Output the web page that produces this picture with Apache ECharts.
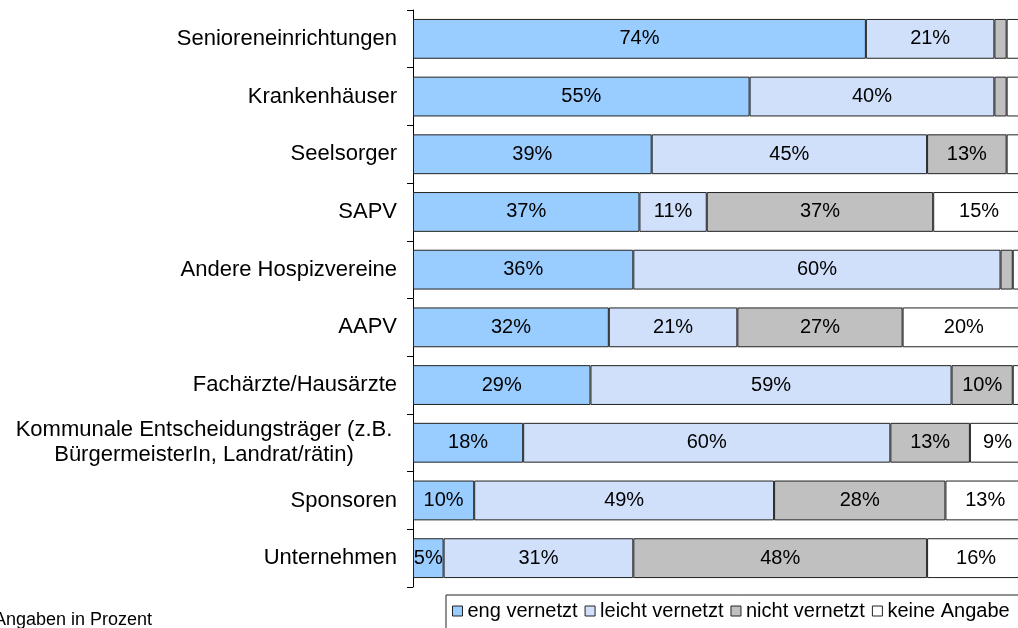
<!DOCTYPE html>
<html lang="de">
<head>
    <meta charset="utf-8">
    <script type="text/javascript" src="https://cdn.jsdelivr.net/npm/echarts@6/dist/echarts.min.js"></script>
</head>
<body style="margin: 0; background: #fff; overflow: hidden">
<!-- etwas breiter als das Fenster: die 100%-Marke liegt knapp hinter dem rechten Rand -->
<div id="container" style="width:1040px;height:628px"></div>

<script type="text/javascript">
    // Kategorien (von oben nach unten)
    var categories = [
        'Senioreneinrichtungen',
        'Krankenhäuser',
        'Seelsorger',
        'SAPV',
        'Andere Hospizvereine',
        'AAPV',
        'Fachärzte/Hausärzte',
        'Kommunale Entscheidungsträger (z.B.\nBürgermeisterIn, Landrat/rätin)',
        'Sponsoren',
        'Unternehmen'
    ];
    var seriesNames = ['eng vernetzt', 'leicht vernetzt', 'nicht vernetzt', 'keine Angabe'];
    var engVernetzt    = [74, 55, 39, 37, 36, 32, 29, 18, 10, 5];
    var leichtVernetzt = [21, 40, 45, 11, 60, 21, 59, 60, 49, 31];
    var nichtVernetzt  = [2, 2, 13, 37, 2, 27, 10, 13, 28, 48];
    var keineAngabe    = [3, 3, 3, 15, 2, 20, 2, 9, 13, 16];
    var colors = ['#99ccff', '#d0e0fa', '#c0c0c0', '#ffffff'];

    var dom = document.getElementById("container");
    var myChart = echarts.init(dom);
    var font = 'Liberation Sans, Arial, sans-serif';

    var allData = [engVernetzt, leichtVernetzt, nichtVernetzt, keineAngabe];
    var series = allData.map(function (d, i) {
        return {
            name: seriesNames[i],
            type: 'bar',
            stack: 'total',
            barWidth: '69%',
            data: d,
            itemStyle: {color: colors[i], borderColor: '#222', borderWidth: 1},
            label: {
                show: true,
                position: 'inside',
                color: '#000',
                fontFamily: font,
                fontSize: 20,
                formatter: function (p) {
                    return p.value >= 5 ? p.value + '%' : '';
                }
            }
        };
    });

    var option = {
        backgroundColor: '#fff',
        animation: false,
        grid: {left: 413, top: 10, bottom: 41, width: 612},
        xAxis: {type: 'value', min: 0, max: 100, show: false},
        yAxis: {
            type: 'category',
            inverse: true,
            data: categories,
            axisLine: {show: true, lineStyle: {color: '#000', width: 1}},
            axisTick: {show: true, length: 6, lineStyle: {color: '#000'}},
            axisLabel: {
                margin: 16,
                color: '#000',
                fontFamily: font,
                fontSize: 22,
                formatter: function (v) {
                    if (v.indexOf('\n') < 0) return v;
                    return v.split('\n').map(function (s) {
                        return '{k|' + s + '}';
                    }).join('\n');
                },
                rich: {
                    k: {width: 386, align: 'center', fontSize: 22, fontFamily: font, color: '#000', lineHeight: 25}
                }
            }
        },
        legend: {
            left: 446,
            top: 595,
            padding: [6, 20, 8, 6],
            itemGap: 7,
            itemWidth: 10,
            itemHeight: 10,
            icon: 'rect',
            backgroundColor: '#fff',
            borderColor: '#222',
            borderWidth: 1,
            borderRadius: 0,
            itemStyle: {borderColor: '#222', borderWidth: 1},
            textStyle: {fontFamily: font, fontSize: 20, color: '#000'},
            data: seriesNames
        },
        graphic: [{
            type: 'text',
            left: -6,
            top: 611,
            style: {text: 'Angaben in Prozent', font: '18px ' + font, fill: '#000'}
        }],
        series: series
    };

    myChart.setOption(option);
</script>
</body>
</html>
